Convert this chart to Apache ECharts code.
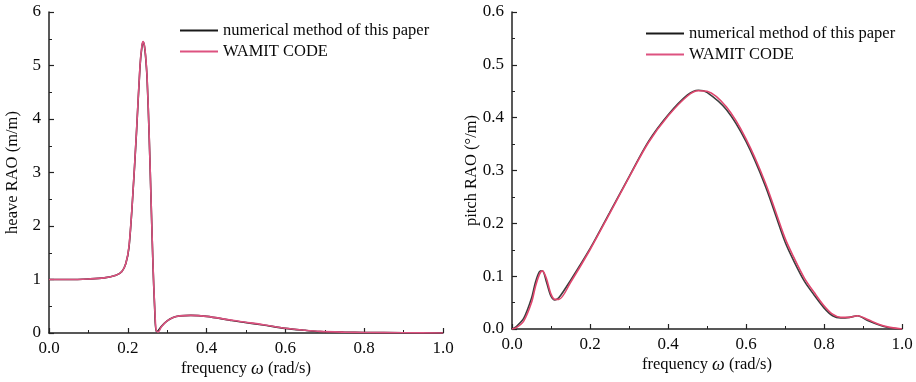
<!DOCTYPE html>
<html>
<head>
<meta charset="utf-8">
<script src="https://cdn.jsdelivr.net/npm/echarts@6/dist/echarts.min.js"></script>
<style>
html, body { margin: 0; padding: 0; background: #fff; }
#main { width: 916px; height: 382px; }
</style>
</head>
<body>
<div id="main"></div>
<script>
// heave RAO (left panel)
const heaveFreq = [0, 0.05, 0.1, 0.14, 0.17, 0.185, 0.195, 0.203, 0.212, 0.222, 0.231, 0.236, 0.239, 0.242, 0.245, 0.249, 0.254, 0.259, 0.264, 0.268, 0.272, 0.277, 0.285, 0.299, 0.315, 0.332, 0.36, 0.4, 0.459, 0.485, 0.544, 0.599, 0.65, 0.688, 0.75, 0.8, 0.9, 1.0];
const heavePaper = [1.0, 1.0, 1.01, 1.03, 1.08, 1.15, 1.3, 1.6, 2.49, 3.74, 4.98, 5.36, 5.44, 5.37, 5.18, 4.75, 3.74, 2.49, 1.25, 0.5, 0.03, 0.04, 0.12, 0.22, 0.29, 0.32, 0.33, 0.31, 0.24, 0.21, 0.15, 0.087, 0.05, 0.028, 0.015, 0.01, 0.005, 0.0];
const heaveWamit = [1.0, 1.0, 1.01, 1.03, 1.08, 1.15, 1.3, 1.62, 2.5, 3.76, 5.0, 5.38, 5.45, 5.38, 5.2, 4.77, 3.76, 2.5, 1.27, 0.52, 0.05, 0.02, 0.11, 0.22, 0.29, 0.32, 0.33, 0.31, 0.245, 0.215, 0.155, 0.09, 0.052, 0.03, 0.016, 0.01, 0.005, 0.0];

// pitch RAO (right panel)
const pitchFreq = [0, 0.01, 0.03, 0.05, 0.06, 0.07, 0.078, 0.088, 0.1, 0.11, 0.12, 0.15, 0.2, 0.25, 0.3, 0.35, 0.4, 0.45, 0.478, 0.5, 0.55, 0.6, 0.65, 0.7, 0.723, 0.75, 0.775, 0.8, 0.822, 0.843, 0.865, 0.886, 0.912, 0.94, 0.963, 1.0];
const pitchPaper = [0.0, 0.004, 0.02, 0.058, 0.088, 0.108, 0.11, 0.09, 0.062, 0.055, 0.059, 0.092, 0.152, 0.22, 0.288, 0.355, 0.405, 0.443, 0.452, 0.448, 0.415, 0.355, 0.27, 0.165, 0.128, 0.09, 0.064, 0.04, 0.025, 0.021, 0.022, 0.025, 0.016, 0.008, 0.003, 0.0];
const pitchWamit = [0.0, 0.002, 0.015, 0.05, 0.08, 0.103, 0.11, 0.096, 0.066, 0.056, 0.056, 0.088, 0.15, 0.218, 0.287, 0.353, 0.403, 0.441, 0.451, 0.45, 0.42, 0.36, 0.276, 0.172, 0.135, 0.096, 0.069, 0.044, 0.028, 0.022, 0.022, 0.025, 0.018, 0.009, 0.004, 0.0];

const seriesNames = ["numerical method of this paper", "WAMIT CODE"];
const heaveTicks = [0, 1, 2, 3, 4, 5, 6];
const pitchTicks = [0, 0.1, 0.2, 0.3, 0.4, 0.5, 0.6];

function pairs(xs, ys) {
	return xs.map((x, i) => [x, ys[i]]);
}

const font = "Liberation Serif";
const axisColor = "#222";
const textColor = "#0a0a0a";

function xAxisOf(gridIndex) {
	return {
		type: "value",
		gridIndex: gridIndex,
		min: 0,
		max: 1,
		interval: 0.2,
		name: "frequency {i|ω} (rad/s)",
		nameLocation: "middle",
		nameGap: 27,
		nameMoveOverlap: false,
		nameTextStyle: {
			fontFamily: font, fontSize: 16.5, color: textColor,
			rich: { i: { fontFamily: font, fontStyle: "italic", fontSize: 18, color: textColor } }
		},
		axisLine: { lineStyle: { color: axisColor, width: 1.5 } },
		axisTick: { inside: true, length: 5, lineStyle: { color: axisColor, width: 1.2 } },
		minorTick: { show: true, splitNumber: 2, length: 3, lineStyle: { color: axisColor, width: 1 } },
		splitLine: { show: false },
		axisLabel: {
			margin: 7, fontFamily: font, fontSize: 17, color: textColor,
			formatter: v => v.toFixed(1)
		}
	};
}

function yAxisOf(gridIndex, ticks, name, digits, gap) {
	return {
		type: "value",
		gridIndex: gridIndex,
		min: ticks[0],
		max: ticks[ticks.length - 1],
		interval: ticks[1] - ticks[0],
		name: name,
		nameLocation: "middle",
		nameGap: gap,
		nameMoveOverlap: false,
		nameTextStyle: { fontFamily: font, fontSize: 16.5, color: textColor },
		axisLine: { lineStyle: { color: axisColor, width: 1.5 } },
		axisTick: { inside: true, length: 5, lineStyle: { color: axisColor, width: 1.2 } },
		minorTick: { show: true, splitNumber: 2, length: 3, lineStyle: { color: axisColor, width: 1 } },
		splitLine: { show: false },
		axisLabel: {
			margin: 8, fontFamily: font, fontSize: 17, color: textColor,
			formatter: v => v.toFixed(digits)
		}
	};
}

function lineOf(name, data, color, axisIdx) {
	return {
		name: name,
		type: "line",
		xAxisIndex: axisIdx,
		yAxisIndex: axisIdx,
		data: data,
		symbol: "none",
		smooth: 0.3,
		lineStyle: { color: color, width: 1.6 },
		itemStyle: { color: color }
	};
}

function legendOf(left, top) {
	return {
		left: left,
		top: top,
		orient: "vertical",
		icon: "rect",
		itemWidth: 38,
		itemHeight: 2,
		itemGap: 4,
		textStyle: { fontFamily: font, fontSize: 16.5, color: textColor },
		data: seriesNames
	};
}

const chart = echarts.init(document.getElementById("main"));
chart.setOption({
	backgroundColor: "#fff",
	animation: false,
	grid: [
		{ left: 49, top: 12, width: 394, height: 321, outerBoundsMode: "none", containLabel: false },
		{ left: 512, top: 12, width: 390, height: 317, outerBoundsMode: "none", containLabel: false }
	],
	legend: [legendOf(175, 17), legendOf(641, 20)],
	xAxis: [xAxisOf(0), xAxisOf(1)],
	yAxis: [
		yAxisOf(0, heaveTicks, "heave RAO (m/m)", 0, 28),
		yAxisOf(1, pitchTicks, "pitch RAO (°/m)", 1, 32)
	],
	series: [
		lineOf(seriesNames[0], pairs(heaveFreq, heavePaper), "#1a1a1a", 0),
		lineOf(seriesNames[1], pairs(heaveFreq, heaveWamit), "#dd5280", 0),
		lineOf(seriesNames[0], pairs(pitchFreq, pitchPaper), "#3a3d3d", 1),
		lineOf(seriesNames[1], pairs(pitchFreq, pitchWamit), "#e0466e", 1)
	]
});
</script>
</body>
</html>
